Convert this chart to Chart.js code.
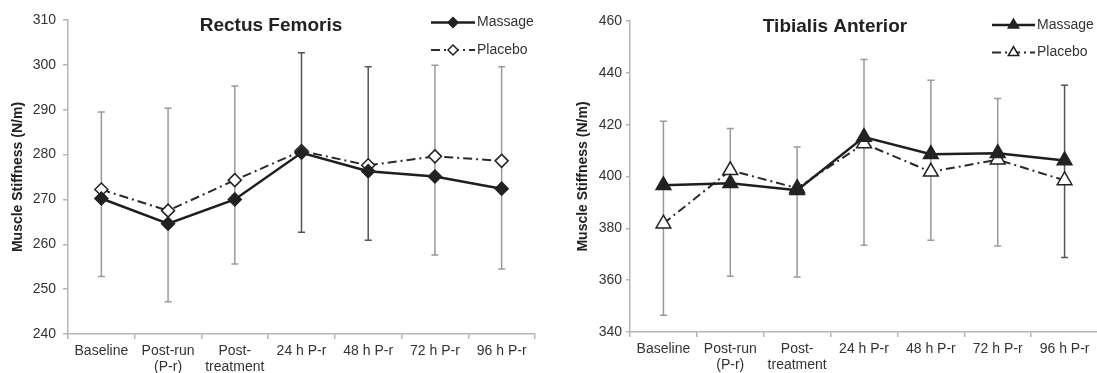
<!DOCTYPE html>
<html lang="en">
<head>
<meta charset="UTF-8">
<title>Muscle Stiffness</title>
<script src="https://cdn.jsdelivr.net/npm/chart.js@4.4.1/dist/chart.umd.min.js"></script>
<style>
    body { margin: 0; background: #fff; overflow: hidden; width: 1097px; height: 373px; position: relative; }
    canvas { position: absolute; top: 0; }
    #rf { left: 0; }
    #ta { left: 565px; }
</style>
</head>
<body>
<canvas id="rf" width="548" height="373"></canvas>
<canvas id="ta" width="543" height="373"></canvas>
<script>
    const timepoints = ['Baseline', ['Post-run', '(P-r)'], ['Post-', 'treatment'], '24 h P-r', '48 h P-r', '72 h P-r', '96 h P-r']

    // Rectus Femoris
    const rfMassage = [270.2, 264.6, 270.0, 280.4, 276.3, 275.1, 272.4]
    const rfPlacebo = [272.2, 267.5, 274.3, 280.8, 277.6, 279.6, 278.6]
    const rfErrHigh = [289.5, 290.3, 295.3, 302.7, 299.6, 299.9, 299.6]
    const rfErrLow = [252.8, 247.2, 255.6, 262.7, 260.9, 257.6, 254.5]
    const rfRange = [240, 310, 10]

    // Tibialis Anterior
    const taMassage = [396.6, 397.4, 394.7, 415.2, 408.6, 409.0, 406.2]
    const taPlacebo = [381.8, 402.4, 395.5, 412.7, 401.8, 406.5, 398.5]
    const taErrHigh = [421.3, 418.5, 411.4, 445.1, 437.1, 430.1, 435.2]
    const taErrLow = [346.5, 361.5, 361.2, 373.5, 375.4, 373.2, 368.7]
    const taRange = [340, 460, 20]

    Chart.defaults.font.family = '"Liberation Sans", Arial, sans-serif'
    Chart.defaults.color = '#333'

    const errorBars = {
        id: 'errorBars',
        beforeDatasetsDraw(chart, args, opts) {
            const ctx = chart.ctx
            const xs = chart.scales.x, ys = chart.scales.y
            ctx.save()
            ctx.lineWidth = 1.5
            for (let i = 0; i < opts.high.length; i++) {
                const cx = xs.getPixelForValue(i)
                const top = ys.getPixelForValue(opts.high[i])
                const bot = ys.getPixelForValue(opts.low[i])
                ctx.strokeStyle = opts.dark.includes(i) ? '#555' : '#9a9a9a'
                ctx.beginPath()
                ctx.moveTo(cx, top)
                ctx.lineTo(cx, bot)
                ctx.moveTo(cx - 3.5, top)
                ctx.lineTo(cx + 3.5, top)
                ctx.moveTo(cx - 3.5, bot)
                ctx.lineTo(cx + 3.5, bot)
                ctx.stroke()
            }
            ctx.restore()
        }
    }

    const lineLegend = {
        id: 'lineLegend',
        afterDraw(chart, args, opts) {
            const ctx = chart.ctx
            ctx.save()
            // chart title
            ctx.font = 'bold 19px "Liberation Sans", Arial, sans-serif'
            ctx.fillStyle = '#222'
            ctx.textAlign = 'center'
            ctx.textBaseline = 'middle'
            ctx.fillText(opts.title, opts.titleX, opts.titleY)

            chart.data.datasets.forEach((ds, i) => {
                const y = opts.y + i * opts.rowGap
                ctx.strokeStyle = ds.borderColor
                ctx.lineWidth = ds.borderWidth
                ctx.setLineDash(ds.borderDash || [])
                ctx.beginPath()
                ctx.moveTo(opts.x, y)
                ctx.lineTo(opts.x + opts.len, y)
                ctx.stroke()
                ctx.setLineDash([])
                ctx.fillStyle = ds.pointBackgroundColor
                ctx.strokeStyle = ds.pointBorderColor
                ctx.lineWidth = ds.pointBorderWidth
                Chart.helpers.drawPoint(ctx, {
                    pointStyle: ds.pointStyle,
                    radius: opts.markerRadius,
                    rotation: 0,
                    borderWidth: ds.pointBorderWidth
                }, opts.x + opts.len / 2, y)
                ctx.fillStyle = '#333'
                ctx.font = '14px "Liberation Sans", Arial, sans-serif'
                ctx.textAlign = 'left'
                ctx.fillText(ds.label, opts.x + opts.len + 2, y)
            })
            ctx.restore()
        }
    }

    function makeChart(id, cfg) {
        return new Chart(document.getElementById(id), {
            type: 'line',
            data: {
                labels: timepoints,
                datasets: [{
                    label: 'Massage',
                    data: cfg.massage,
                    borderColor: '#1e1e1e',
                    borderWidth: 2.5,
                    pointStyle: cfg.marker,
                    pointRadius: cfg.radius,
                    pointBackgroundColor: '#222',
                    pointBorderColor: '#222',
                    pointBorderWidth: 1.5,
                    tension: 0,
                }, {
                    label: 'Placebo',
                    data: cfg.placebo,
                    borderColor: '#2a2a2a',
                    borderWidth: 2,
                    borderDash: [9, 4, 2, 4],
                    pointStyle: cfg.marker,
                    pointRadius: cfg.radius,
                    pointBackgroundColor: '#fff',
                    pointBorderColor: '#222',
                    pointBorderWidth: 1.5,
                    tension: 0,
                }]
            },
            options: {
                responsive: false,
                animation: false,
                devicePixelRatio: 1,
                layout: { padding: { top: cfg.top, right: cfg.right, bottom: 0, left: 0 } },
                plugins: {
                    legend: { display: false },
                    tooltip: { enabled: false },
                    errorBars: { high: cfg.high, low: cfg.low, dark: cfg.dark },
                    lineLegend: cfg.legend,
                },
                scales: {
                    x: {
                        offset: true,
                        grid: { offset: true, drawOnChartArea: false, tickLength: 5, color: '#b5b5b5', lineWidth: 1.5 },
                        border: { color: '#b5b5b5', width: 1.5 },
                        ticks: { color: '#333', font: { size: 14, lineHeight: 1.15 }, padding: 4, maxRotation: 0, autoSkip: false },
                        afterFit: (s) => { s.height = cfg.xHeight },
                    },
                    y: {
                        min: cfg.range[0],
                        max: cfg.range[1],
                        grid: { drawOnChartArea: false, tickLength: cfg.tickLen, color: '#b5b5b5', lineWidth: 1.5 },
                        border: { color: '#b5b5b5', width: 1.5 },
                        ticks: { stepSize: cfg.range[2], color: '#333', font: { size: 14 }, padding: cfg.tickPad },
                        title: {
                            display: true,
                            text: 'Muscle Stiffness (N/m)',
                            color: '#222',
                            font: { size: 14, weight: 'bold' },
                            padding: { top: 10, bottom: 0 },
                        },
                        afterFit: (s) => { s.width = cfg.yWidth },
                    }
                }
            },
            plugins: [errorBars, lineLegend]
        })
    }

    makeChart('rf', {
        massage: rfMassage, placebo: rfPlacebo, high: rfErrHigh, low: rfErrLow, range: rfRange,
        marker: 'rectRot', radius: 6.5, dark: [3, 4],
        top: 20, right: 13, xHeight: 39, yWidth: 68, tickLen: 5, tickPad: 7,
        legend: { title: 'Rectus Femoris', titleX: 271, titleY: 26, x: 431, y: 22.5, rowGap: 27.5, len: 44, markerRadius: 5 },
    })

    makeChart('ta', {
        massage: taMassage, placebo: taPlacebo, high: taErrHigh, low: taErrLow, range: taRange,
        marker: 'triangle', radius: 8.5, dark: [6],
        top: 21, right: 9, xHeight: 41, yWidth: 65, tickLen: 4, tickPad: 4,
        legend: { title: 'Tibialis Anterior', titleX: 270, titleY: 27, x: 427, y: 25, rowGap: 27.5, len: 43, markerRadius: 6 },
    })
</script>
</body>
</html>
